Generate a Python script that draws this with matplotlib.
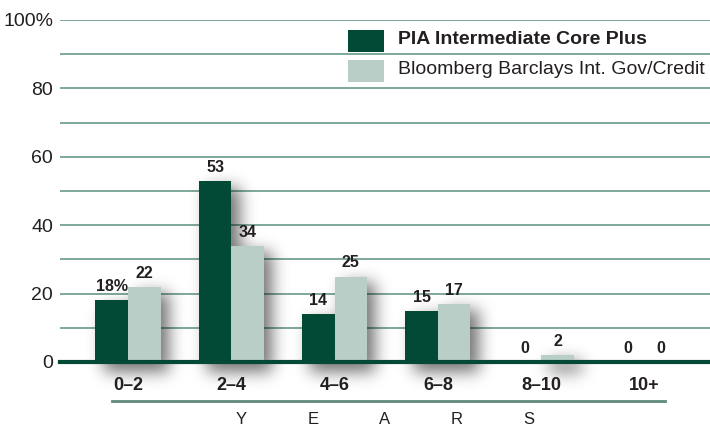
import matplotlib
matplotlib.use("Agg")
import matplotlib.pyplot as plt
import numpy as np
from matplotlib.patches import Rectangle

# ── Data ─────────────────────────────────────────────────────
categories = ["0–2", "2–4", "4–6", "6–8", "8–10", "10+"]
pia_values = [18, 53, 14, 15, 0, 0]
index_values = [22, 34, 25, 17, 2, 0]
pia_labels = ["18%", "53", "14", "15", "0", "0"]
index_labels = ["22", "34", "25", "17", "2", "0"]
ytick_values = [0, 20, 40, 60, 80, 100]
ytick_labels = ["0", "20", "40", "60", "80", "100%"]
axis_letters = ["Y", "E", "A", "R", "S"]
series_names = ["PIA Intermediate Core Plus", "Bloomberg Barclays Int. Gov/Credit"]

DARK = "#024a35"
LIGHT = "#b8cec6"
GRID = "#7ea898"
TEXT = "#231f20"

plt.rcParams["font.family"] = ["Liberation Sans", "DejaVu Sans"]

fig = plt.figure(figsize=(7.1, 4.28), dpi=100)
ax = fig.add_axes([60 / 710, 1 - 362 / 428, 650 / 710, 342 / 428])

width = 0.315
x = list(range(len(categories)))
XLIM = (-0.658, 5.634)

# ── Soft drop shadow: blurred mask of the bars, shifted right/down ──
ys = np.linspace(-10, 100, 376)
xs = np.linspace(XLIM[0], XLIM[1], 650)
X, Y = np.meshgrid(xs, ys)
mask = np.zeros_like(X)
for i in x:
    for xpos, h in ((i - width / 2, pia_values[i]), (i + width / 2, index_values[i])):
        if h == 0:
            continue
        inside = ((X > xpos - width / 2 + 0.08) & (X < xpos + width / 2 + 0.08)
                  & (Y > -3) & (Y < h - 2))
        mask[inside] = 1.0
kern = np.exp(-0.5 * (np.arange(-24, 25) / 8.0) ** 2)
kern /= kern.sum()
blur = np.apply_along_axis(lambda r: np.convolve(r, kern, mode="same"), 1, mask)
blur = np.apply_along_axis(lambda c: np.convolve(c, kern, mode="same"), 0, blur)
rgba = np.zeros(blur.shape + (4,))
rgba[..., 3] = 0.55 * blur
ax.imshow(rgba, extent=(XLIM[0], XLIM[1], -10, 100), origin="lower",
          aspect="auto", zorder=1, clip_on=False, interpolation="bilinear")

ax.bar([i - width / 2 for i in x], pia_values, width, color=DARK, zorder=3)
ax.bar([i + width / 2 for i in x], index_values, width, color=LIGHT, zorder=3)

for i in x:
    ax.text(i - width / 2, pia_values[i] + 1.8, pia_labels[i], ha="center", va="bottom",
            fontsize=11.5, fontweight="bold", color=TEXT, zorder=4)
    ax.text(i + width / 2, index_values[i] + 1.8, index_labels[i], ha="center", va="bottom",
            fontsize=11.5, fontweight="bold", color=TEXT, zorder=4)

# ── Grid and axes ────────────────────────────────────────────
for g in range(10, 101, 10):
    ax.axhline(g, color=GRID, lw=1.4, zorder=0)
ax.axhline(0, color=DARK, lw=3, zorder=5, clip_on=False)

ax.set_xlim(*XLIM)
ax.set_ylim(0, 100)
ax.set_xticks([])
ax.set_yticks(ytick_values)
ax.set_yticklabels(ytick_labels, fontsize=14, color=TEXT)
ax.tick_params(axis="y", length=0, pad=5)
for s in ax.spines.values():
    s.set_visible(False)

for i, c in enumerate(categories):
    ax.text(i, -4.5, c, ha="center", va="top", fontsize=13, fontweight="bold",
            color=TEXT, clip_on=False)

fig.add_artist(plt.Line2D([112 / 710, 665 / 710], [1 - 401 / 428] * 2,
                          color="#5e8a78", lw=2))
for j, letter in enumerate(axis_letters):
    fig.text((241 + 72 * j) / 710, 1 - 419 / 428, letter, ha="center", va="center",
             fontsize=12, color=TEXT)

# ── Legend ───────────────────────────────────────────────────
fig.add_artist(Rectangle((348 / 710, 1 - 52 / 428), 36 / 710, 22 / 428,
                         color=DARK, lw=0))
fig.add_artist(Rectangle((348 / 710, 1 - 82 / 428), 36 / 710, 22 / 428,
                         color=LIGHT, lw=0))
fig.text(398 / 710, 1 - 40 / 428, series_names[0], ha="left", va="center",
         fontsize=14, fontweight="bold", color=TEXT)
fig.text(398 / 710, 1 - 70 / 428, series_names[1], ha="left", va="center",
         fontsize=14, color=TEXT)

fig.savefig("out.png", dpi=100)
